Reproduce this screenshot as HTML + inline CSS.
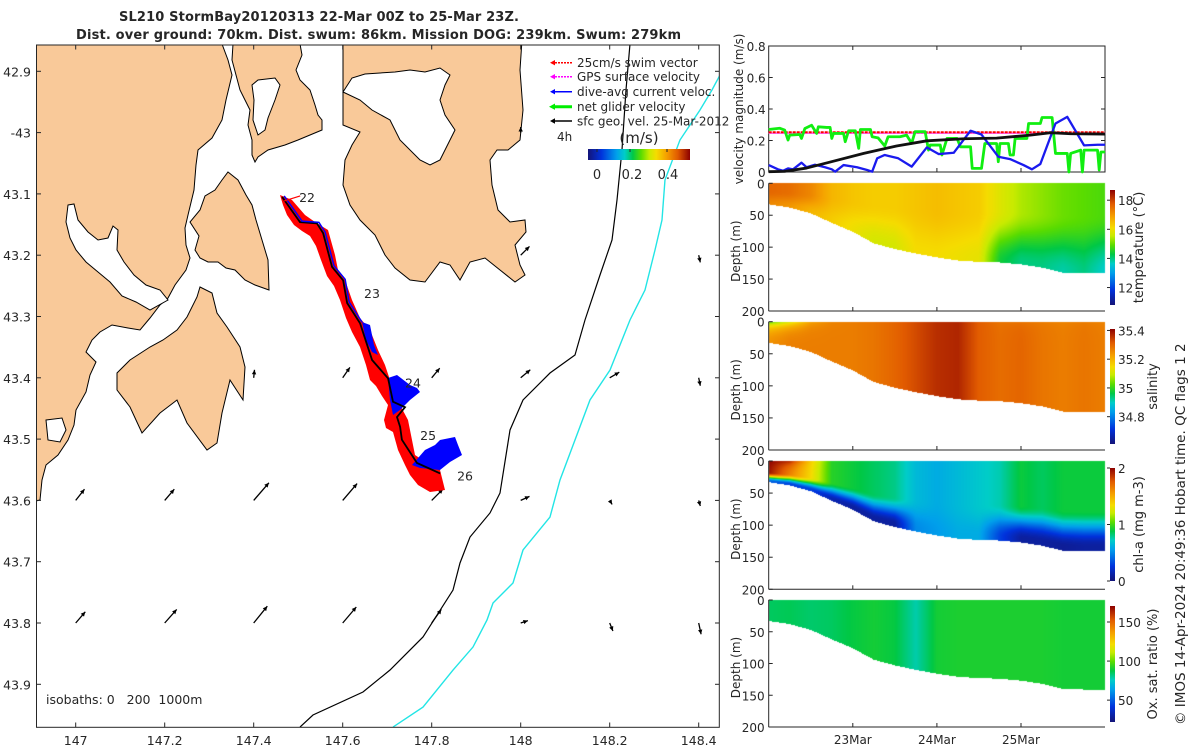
<!DOCTYPE html>
<html><head><meta charset="utf-8">
<style>
body{margin:0;width:1200px;height:750px;background:#fff;overflow:hidden;font-family:"DejaVu Sans","Liberation Sans",sans-serif}
#heat{position:absolute;left:0;top:0}
#chart{position:absolute;left:0;top:0}
text{fill:#262626}
</style></head>
<body>
<canvas id="heat" width="1200" height="750"></canvas>
<svg id="chart" width="1200" height="750" xmlns="http://www.w3.org/2000/svg">
<defs>
<clipPath id="mapclip"><rect x="36.5" y="45" width="682.8" height="682.3"/></clipPath>
<linearGradient id="cbgrad" x1="0" x2="1" y1="0" y2="0">
<stop offset="0" stop-color="rgb(20,20,120)"/><stop offset="0.13" stop-color="rgb(0,50,220)"/><stop offset="0.28" stop-color="rgb(0,160,235)"/><stop offset="0.36" stop-color="rgb(0,205,200)"/><stop offset="0.44" stop-color="rgb(0,200,70)"/><stop offset="0.52" stop-color="rgb(90,220,0)"/><stop offset="0.6" stop-color="rgb(200,235,0)"/><stop offset="0.67" stop-color="rgb(245,220,0)"/><stop offset="0.77" stop-color="rgb(245,160,0)"/><stop offset="0.88" stop-color="rgb(225,90,0)"/><stop offset="1" stop-color="rgb(140,0,0)"/>
</linearGradient>
<linearGradient id="cbgradv" x1="0" x2="0" y1="1" y2="0">
<stop offset="0" stop-color="rgb(20,20,120)"/><stop offset="0.13" stop-color="rgb(0,50,220)"/><stop offset="0.28" stop-color="rgb(0,160,235)"/><stop offset="0.36" stop-color="rgb(0,205,200)"/><stop offset="0.44" stop-color="rgb(0,200,70)"/><stop offset="0.52" stop-color="rgb(90,220,0)"/><stop offset="0.6" stop-color="rgb(200,235,0)"/><stop offset="0.67" stop-color="rgb(245,220,0)"/><stop offset="0.77" stop-color="rgb(245,160,0)"/><stop offset="0.88" stop-color="rgb(225,90,0)"/><stop offset="1" stop-color="rgb(140,0,0)"/>
</linearGradient>
</defs>
<text x="119" y="21" font-size="13" font-weight="bold" textLength="400">SL210 StormBay20120313 22-Mar 00Z to 25-Mar 23Z.</text>
<text x="76" y="39" font-size="13" font-weight="bold" textLength="605">Dist. over ground: 70km. Dist. swum: 86km. Mission DOG: 239km. Swum: 279km</text>

<g id="map">
 <g clip-path="url(#mapclip)" id="mapinner">
  <g fill="#F9C999" stroke="#000" stroke-width="1">
   <path d="M20,44 L222,44 L228,60 L232,75 L226,100 L222,120 L212,138 L198,150 L196,165 L194,190 L188,215 L185,228 L186,245 L190,258 L186,270 L175,285 L168,298 L160,305 L150,318 L140,330 L128,328 L112,325 L100,332 L92,340 L86,352 L96,362 L90,375 L86,392 L76,410 L74,425 L68,440 L58,455 L46,465 L42,480 L40,500 L20,505 Z"/>
   <path d="M228,172 L238,180 L246,195 L252,205 L256,220 L262,240 L268,260 L269,290 L255,285 L245,280 L235,270 L226,268 L218,262 L208,262 L200,258 L195,250 L199,236 L190,222 L200,210 L205,196 L215,190 L222,180 Z"/>
   <path d="M200,287 L212,293 L217,313 L227,327 L240,347 L245,367 L243,400 L230,380 L222,413 L217,443 L207,450 L187,423 L177,400 L160,413 L142,433 L136,420 L130,407 L117,390 L117,373 L130,360 L150,347 L163,340 L177,330 L187,317 L197,297 Z"/>
   <path d="M233,44 L300,44 L302,55 L296,70 L300,80 L310,90 L315,105 L318,115 L322,120 L322,130 L310,135 L298,140 L285,145 L268,150 L258,157 L255,162 L252,155 L252,140 L248,125 L250,110 L245,100 L240,90 L236,75 L232,60 Z"/>
   <path d="M343,40 L522,40 L520,70 L523,110 L520,140 L508,150 L497,150 L490,160 L492,185 L498,210 L510,222 L525,220 L526,232 L515,245 L520,265 L525,275 L515,282 L500,270 L485,258 L470,262 L460,280 L450,265 L440,262 L425,282 L410,280 L395,268 L385,255 L375,235 L360,220 L350,205 L343,185 L345,160 L352,145 L360,132 L343,125 Z"/>
  </g>
  <g fill="#fff" stroke="#000" stroke-width="1">
   <path d="M68,205 L74,204 L78,220 L88,232 L98,240 L108,238 L113,226 L118,230 L117,250 L124,262 L134,275 L146,285 L160,290 L168,300 L150,310 L136,302 L122,296 L110,282 L98,272 L86,262 L76,250 L70,238 L66,222 Z"/>
   <path d="M258,80 L275,78 L280,85 L275,100 L268,118 L265,130 L258,135 L253,120 L254,100 L252,85 Z"/>
   <path d="M343,92 L352,78 L365,74 L395,72 L410,70 L425,72 L440,68 L450,75 L445,85 L440,100 L445,115 L455,130 L450,140 L440,160 L430,165 L420,160 L400,140 L390,120 L372,110 L360,100 Z"/>
   <path d="M46,420 L62,418 L66,430 L60,442 L48,440 Z"/>
  </g>
  <g id="isobaths"></g>
  <g id="arrows"></g>
  <g>
   <path fill="#ff0000" d="M280,195 L292,200 L305,215 L315,222 L328,230 L335,255 L338,270 L345,280 L352,300 L360,318 L370,330 L378,350 L385,365 L390,380 L395,395 L400,405 L408,420 L412,440 L415,455 L430,465 L440,470 L445,490 L430,492 L418,485 L410,475 L405,465 L398,450 L393,432 L386,428 L384,420 L388,405 L382,396 L376,386 L370,380 L366,365 L360,347 L352,332 L346,318 L340,300 L334,286 L327,276 L321,260 L316,246 L310,236 L302,231 L294,225 L287,215 L283,205 Z"/>
   <path fill="#0000ff" d="M412,465 L425,450 L435,445 L440,440 L455,437 L458,445 L462,455 L450,462 L440,470 L420,468 Z"/>
   <path fill="#0000ff" d="M388,378 L397,375 L410,385 L417,388 L420,392 L410,400 L400,410 L393,415 L390,400 Z"/>
   <path fill="#0000ff" d="M362,322 L370,325 L374,345 L378,355 L372,352 L366,340 Z"/>
  </g>
  <g id="track"></g>
 </g>
 <rect x="36.5" y="45" width="682.8" height="682.3" fill="none" stroke="#262626" stroke-width="1"/>
 <g id="mapaxes"></g>
 <text x="46" y="704" font-size="12.5" xml:space="preserve" style="white-space:pre">isobaths: 0   200  1000m</text>
 <g font-size="12">
  <g><line x1="552" y1="62.7" x2="572" y2="62.7" stroke="#ff0000" stroke-width="1.5" stroke-dasharray="2 1"/><path d="M550,62.7 L555,60 L555,65.4 Z" fill="#ff0000"/><text x="577" y="67">25cm/s swim vector</text></g>
  <g><line x1="552" y1="76.7" x2="572" y2="76.7" stroke="#ff00ff" stroke-width="1.5" stroke-dasharray="2 1"/><path d="M550,76.7 L555,74 L555,79.4 Z" fill="#ff00ff"/><text x="577" y="81">GPS surface velocity</text></g>
  <g><line x1="552" y1="91.7" x2="572" y2="91.7" stroke="#0000ff" stroke-width="1.5"/><path d="M550,91.7 L555,89 L555,94.4 Z" fill="#0000ff"/><text x="577" y="96">dive-avg current veloc.</text></g>
  <g><line x1="552" y1="106.7" x2="572" y2="106.7" stroke="#00ee00" stroke-width="3"/><path d="M549,106.7 L555,103.5 L555,109.9 Z" fill="#00ee00"/><text x="577" y="111">net glider velocity</text></g>
  <g><line x1="552" y1="121" x2="572" y2="121" stroke="#000" stroke-width="1.5"/><path d="M550,121 L555,118.3 L555,123.7 Z" fill="#000"/><text x="577" y="125.5">sfc geo. vel. 25-Mar-2012</text></g>
  <text x="557" y="141" font-size="12">4h</text>
  <text x="639" y="143" font-size="15" text-anchor="middle">(m/s)</text>
  <rect x="588" y="149" width="102" height="11" fill="url(#cbgrad)"/>
  <g font-size="13" text-anchor="middle">
   <line x1="597" y1="149" x2="597" y2="152" stroke="#262626"/><line x1="630" y1="149" x2="630" y2="152" stroke="#262626"/><line x1="667" y1="149" x2="667" y2="152" stroke="#262626"/>
   <text x="597" y="179">0</text><text x="632" y="179">0.2</text><text x="668" y="179">0.4</text>
  </g>
 </g>
</g>

<g id="velpanel"></g>
<g id="sections"></g>
<text transform="translate(1185,725) rotate(-90)" font-size="13.5">© IMOS 14-Apr-2024 20:49:36 Hobart time. QC flags 1  2</text>
</svg>

<script>
// ---------------- DATA ----------------
const trackLon = [147.464,147.504,147.542,147.556,147.576,147.601,147.610,147.639,147.666,147.702,147.713,147.740,147.722,147.729,147.733,147.767,147.819];
const trackLat = [43.105,43.146,43.148,43.164,43.219,43.241,43.278,43.311,43.371,43.401,43.439,43.448,43.464,43.480,43.501,43.539,43.556];
const dayLabels = ['22','23','24','25','26'];
const dayLon = [147.502,147.648,147.740,147.774,147.857];
const dayLat = [43.105,43.262,43.408,43.493,43.559];
const iso200Lon = [148.2456,148.2366,148.2276,148.2164,148.2052,148.1782,148.1445,148.1220,148.0658,148.0052,147.9760,147.9535,147.9310,147.8861,147.8636,147.8479,147.7805,147.7063,147.6456,147.5332,147.5040];
const iso200Lat = [42.8555,42.9305,43.0284,43.1100,43.1752,43.2323,43.3057,43.3628,43.3922,43.4362,43.4851,43.5879,43.6205,43.6597,43.7021,43.7462,43.8228,43.8767,43.9126,43.9501,43.9697];
const iso1000Lon = [148.4478,148.4298,148.4029,148.3579,148.3242,148.3175,148.3018,148.2793,148.2456,148.2007,148.1557,148.1220,148.0883,148.0658,148.0052,147.9827,147.9378,147.9243,147.8928,147.8479,147.7805,147.7131];
const iso1000Lat = [42.9061,42.9305,42.9632,43.0121,43.0774,43.1426,43.1915,43.2568,43.3057,43.3873,43.4362,43.5015,43.5667,43.6271,43.6809,43.7347,43.7674,43.7951,43.8392,43.8767,43.9371,43.9697];
const arrLon = [147.4,147.6,147.8,148.0,148.2,148.4, 148.0,148.4, 147.0,147.2,147.4,147.6,147.8,148.0,148.2,148.4, 147.0,147.2,147.4,147.6,147.8,148.0,148.2,148.4, 148.0];
const arrLat = [43.4,43.4,43.4,43.4,43.4,43.4, 43.2,43.2, 43.6,43.6,43.6,43.6,43.6,43.6,43.6,43.6, 43.8,43.8,43.8,43.8,43.8,43.8,43.8,43.8, 43.0];
const arrU = [0.01,0.09,0.10,0.12,0.12,0.02, 0.11,0.02, 0.11,0.12,0.19,0.18,0.14,0.11,0.03,0.02, 0.12,0.15,0.17,0.17,0.12,0.09,0.04,0.03, 0.0];
const arrV = [0.10,0.13,0.12,0.10,0.07,-0.10, 0.11,-0.09, 0.14,0.14,0.22,0.21,0.14,0.05,-0.05,-0.07, 0.14,0.17,0.21,0.20,0.17,0.03,-0.10,-0.14, 0.07];
const latTicks = [42.9,43.0,43.1,43.2,43.3,43.4,43.5,43.6,43.7,43.8,43.9];
const latTickLabels = ['42.9','-43','43.1','43.2','43.3','43.4','43.5','43.6','43.7','43.8','43.9'];
const lonTicks = [147,147.2,147.4,147.6,147.8,148,148.2,148.4];
const lonTickLabels = ['147','147.2','147.4','147.6','147.8','148','148.2','148.4'];

const netT = [0,0.13,0.19,0.23,0.25,0.37,0.39,0.43,0.51,0.57,0.59,0.69,0.73,0.75,0.77,0.89,0.91,0.95,1.03,1.07,1.09,1.21,1.23,1.30,1.38,1.42,1.56,1.64,1.70,1.74,1.86,1.90,1.92,2.04,2.06,2.12,2.24,2.28,2.40,2.42,2.53,2.57,2.71,2.73,2.75,2.85,2.87,2.91,2.93,3.07,3.09,3.23,3.25,3.37,3.41,3.55,3.57,3.59,3.71,3.73,3.75,3.91,3.93,3.95,4.0];
const netV = [0.27,0.278,0.266,0.203,0.234,0.238,0.213,0.276,0.297,0.245,0.287,0.283,0.283,0.213,0.245,0.245,0.192,0.262,0.262,0.150,0.270,0.270,0.224,0.217,0.165,0.224,0.224,0.234,0.182,0.256,0.256,0.139,0.171,0.171,0.108,0.213,0.213,0.160,0.160,0.023,0.023,0.181,0.181,0.065,0.181,0.181,0.108,0.108,0.213,0.213,0.308,0.308,0.346,0.346,0.118,0.118,0.0,0.118,0.139,0.0,0.139,0.139,0.013,0.127,0.127];
const curT = [0,0.11,0.17,0.23,0.29,0.39,0.45,0.55,0.67,0.75,0.79,0.89,1.05,1.17,1.23,1.29,1.38,1.54,1.70,1.88,2.02,2.20,2.40,2.53,2.73,2.87,3.03,3.13,3.23,3.41,3.55,3.75,3.91,4.0];
const curV = [0.044,0.017,0.008,0.023,0.017,0.059,0.030,0.046,0.030,0.017,0.002,0.044,0.030,0.013,0.002,0.087,0.108,0.087,0.034,0.156,0.114,0.122,0.262,0.238,0.097,0.082,0.044,0.017,0.051,0.308,0.350,0.169,0.173,0.173];
const geoT = [0,0.19,0.45,0.73,1.13,1.52,1.88,2.32,2.71,3.11,3.35,3.59,4.0];
const geoV = [0.002,0.004,0.025,0.063,0.118,0.165,0.198,0.211,0.215,0.234,0.249,0.243,0.241];
const swimV = 0.252;
const velTicks = [0,0.2,0.4,0.6,0.8];
const dateTicks = [1,2,3];
const dateTickLabels = ['23Mar','24Mar','25Mar'];

const secT = [0,0.25,0.5,0.75,1,1.25,1.5,1.75,2,2.25,2.5,2.75,3,3.25,3.5,3.75,4];
const bottomDepth = [33,38,47,62,76,94,103,110,116,121,123,124,127,132,140,141,141];
const tempBody = [17.6,17.5,17.2,16.6,16.4,16.3,16.3,16.4,16.5,16.4,16.3,15.8,15.4,15.2,15.0,14.9,14.8];
const tempDeep = [17.2,17.0,16.6,16.3,16.0,15.7,15.7,16.1,16.1,16.0,15.9,14.4,14.0,14.0,13.8,14.0,13.6];
const salSurf = [35.0,35.1,35.22,35.26,35.27,35.28,35.3,35.33,35.36,35.37,35.31,35.28,35.28,35.27,35.26,35.27,35.26];
const salBody = [35.25,35.27,35.27,35.27,35.27,35.28,35.3,35.33,35.36,35.37,35.31,35.29,35.3,35.28,35.27,35.28,35.27];
const chlSurf = [2.0,1.9,1.4,0.95,0.9,0.85,0.8,0.65,0.6,0.65,0.7,0.75,0.9,0.85,0.9,0.9,0.9];
const chlBody = [1.95,1.6,1.35,0.95,0.9,0.85,0.8,0.65,0.6,0.65,0.7,0.75,0.9,0.85,0.9,0.9,0.9];
const chlDeep = [0.4,0.3,0.3,0.15,0.1,0.1,0.1,0.5,0.55,0.6,0.6,0.3,0.1,0.1,0.08,0.1,0.1];
const oxBody = [85,86,84,85,88,90,88,78,90,91,91,91,91,91,90,90,90];
const tempTicks=[12,14,16,18], salTicks=[34.8,35,35.2,35.4], chlTicks=[0,1,2], oxTicks=[50,100,150];
const depthTicks=[0,50,100,150,200];

// ---------------- helpers ----------------
const NS='http://www.w3.org/2000/svg';
function mk(tag, attrs, parent){const e=document.createElementNS(NS,tag);for(const k in attrs)e.setAttribute(k,attrs[k]);parent.appendChild(e);return e;}
const lonX = lon => 75.7 + (lon-147)*445;
const latY = lat => 561.7 + (lat-43.7)*613;
function interp(xs,ys,x){if(x<=xs[0])return ys[0];for(let i=1;i<xs.length;i++){if(x<=xs[i]){const f=(x-xs[i-1])/(xs[i]-xs[i-1]);return ys[i-1]+f*(ys[i]-ys[i-1]);}}return ys[ys.length-1];}
const cmStops=[[0,[20,20,120]],[0.13,[0,50,220]],[0.28,[0,160,235]],[0.36,[0,205,200]],[0.44,[0,200,70]],[0.52,[90,220,0]],[0.6,[200,235,0]],[0.67,[245,220,0]],[0.77,[245,160,0]],[0.88,[225,90,0]],[1,[140,0,0]]];
function cmap(f){f=Math.max(0,Math.min(1,f));for(let i=1;i<cmStops.length;i++){if(f<=cmStops[i][0]){const a=cmStops[i-1],b=cmStops[i];const g=(f-a[0])/(b[0]-a[0]);return [0,1,2].map(k=>Math.round(a[1][k]+g*(b[1][k]-a[1][k])));}}return cmStops[cmStops.length-1][1];}
function arrowHead(g,x1,y1,x2,y2,size,color){const a=Math.atan2(y2-y1,x2-x1);const p1=[x2-size*Math.cos(a-0.45),y2-size*Math.sin(a-0.45)],p2=[x2-size*Math.cos(a+0.45),y2-size*Math.sin(a+0.45)];return mk('path',{d:`M${x2},${y2} L${p1[0]},${p1[1]} L${p2[0]},${p2[1]} Z`,fill:color},g);}

// ---------------- MAP ----------------
const iso=document.getElementById('isobaths');
let el=mk('polyline',{points:iso200Lon.map((l,i)=>lonX(l)+','+latY(iso200Lat[i])).join(' '),fill:'none',stroke:'#000','stroke-width':1.2},iso);


el=mk('polyline',{points:iso1000Lon.map((l,i)=>lonX(l)+','+latY(iso1000Lat[i])).join(' '),fill:'none',stroke:'#22e5e5','stroke-width':1.4},iso);



const arrG=document.getElementById('arrows');
const AS=80;
arrLon.forEach((lon,i)=>{
  const x1=lonX(lon),y1=latY(arrLat[i]),x2=x1+arrU[i]*AS,y2=y1-arrV[i]*AS;
  const g=mk('g',{},arrG);
  
  
  mk('line',{x1:x1,y1:y1,x2:x2,y2:y2,stroke:'#000','stroke-width':1.3},g);
  arrowHead(g,x1,y1,x2,y2,5,'#000');
});

const trG=document.getElementById('track');
el=mk('polyline',{points:trackLon.map((l,i)=>lonX(l)+','+latY(trackLat[i])).join(' '),fill:'none',stroke:'#000','stroke-width':1.8},trG);


el=mk('polyline',{points:trackLon.slice(0,8).map((l,i)=>(lonX(l)+2)+','+(latY(trackLat[i])-1)).join(' '),fill:'none',stroke:'#0000ff','stroke-width':1.5},trG);


dayLabels.forEach((d,i)=>{
  const t=mk('text',{x:lonX(dayLon[i]),y:latY(dayLat[i])+5,'font-size':12.5},trG);
  t.textContent=d;
  
  
});
el=mk('line',{x1:lonX(trackLon[0])+2,y1:latY(trackLat[0])+4,x2:lonX(trackLon[0])+18,y2:latY(trackLat[0])-1,stroke:'#ff0000','stroke-width':1.2},trG);



const ax=document.getElementById('mapaxes');
latTicks.forEach((lat,i)=>{
  const y=latY(lat);
  mk('line',{x1:36.5,y1:y,x2:41,y2:y,stroke:'#262626'},ax);
  mk('line',{x1:715,y1:y,x2:719.3,y2:y,stroke:'#262626'},ax);
  const t=mk('text',{x:31,y:y+5,'font-size':12.5,'text-anchor':'end'},ax);
  t.textContent=latTickLabels[i];
  
  
});
lonTicks.forEach((lon,i)=>{
  const x=lonX(lon);
  mk('line',{x1:x,y1:727.3,x2:x,y2:722.5,stroke:'#262626'},ax);
  mk('line',{x1:x,y1:45,x2:x,y2:49.5,stroke:'#262626'},ax);
  const t=mk('text',{x:x,y:745,'font-size':12.5,'text-anchor':'middle'},ax);
  t.textContent=lonTickLabels[i];
  
  
});

// ---------------- VELOCITY PANEL ----------------
const X0=768.7, DAY=84.1, XR=1105;
const tx=t=>X0+t*DAY;
const VT=46, VB=172;
const vy=v=>VB-(v/0.8)*(VB-VT);
const vp=document.getElementById('velpanel');
el=mk('rect',{x:X0,y:VT,width:XR-X0,height:VB-VT,fill:'#fff',stroke:'#262626'},vp);


velTicks.forEach(v=>{
  mk('line',{x1:X0,y1:vy(v),x2:X0+4,y2:vy(v),stroke:'#262626'},vp);
  mk('line',{x1:XR-4,y1:vy(v),x2:XR,y2:vy(v),stroke:'#262626'},vp);
  const t=mk('text',{x:X0-3,y:vy(v)+5,'font-size':12,'text-anchor':'end'},vp);
  t.textContent=v===0?'0':v.toFixed(1);
  
  
});
dateTicks.forEach(d=>{mk('line',{x1:tx(d),y1:VB,x2:tx(d),y2:VB-4,stroke:'#262626'},vp);mk('line',{x1:tx(d),y1:VT,x2:tx(d),y2:VT+4,stroke:'#262626'},vp);});
el=mk('text',{transform:`translate(${743},${109}) rotate(-90)`,'font-size':12,'text-anchor':'middle'},vp);
el.textContent='velocity magnitude (m/s)';


function series(ts,vs,color,w,name,dash){
  const e=mk('polyline',{points:ts.map((t,i)=>tx(t)+','+vy(vs[i])).join(' '),fill:'none',stroke:color,'stroke-width':w,'stroke-linejoin':'round'},vp);
  if(dash)e.setAttribute('stroke-dasharray',dash);
  
  
}
series([0,4],[swimV-0.006,swimV-0.006],'#ff66ff',1.5,'gps-velocity-line');
series([0,4],[swimV,swimV],'#ff0000',2,'swim-speed-line','3 1');
series(netT,netV,'#11ee11',2.8,'net-glider-velocity-line');
series(curT,curV,'#1a1aee',2.3,'dive-avg-current-line');
series(geoT,geoV,'#111',2.8,'sfc-geo-velocity-line');

// ---------------- SECTION PANELS ----------------
function smooth(x){x=Math.max(0,Math.min(1,x));return x*x*(3-2*x);}
const panels=[
 {top:183.3,bot:311,name:'temperature',cb:[190,305],lo:10.8,hi:18.7,ticks:tempTicks,label:'temperature (°C)',lx:1143,
  f:(t,z,D)=>{const b=interp(secT,tempBody,t),d=interp(secT,tempDeep,t);const s=smooth((z/D-0.35)/0.65);return b+(d-b)*s;}},
 {top:321.7,bot:450,name:'salinity',cb:[329,444],lo:34.61,hi:35.41,ticks:salTicks,label:'salinity',lx:1157,
  f:(t,z,D)=>{const s=interp(secT,salSurf,t),b=interp(secT,salBody,t);return b+(s-b)*Math.exp(-z/9);}},
 {top:461,bot:589.3,name:'chlorophyll',cb:[468,581],lo:0,hi:2,ticks:chlTicks,label:'chl-a (mg m-3)',lx:1143,
  f:(t,z,D)=>{const s=interp(secT,chlSurf,t),b=interp(secT,chlBody,t),d=interp(secT,chlDeep,t);const w=smooth((z/D-0.55)/0.4);return b+(s-b)*Math.exp(-z/10)+(d-b)*w;}},
 {top:600,bot:727,name:'oxygen',cb:[606,722],lo:22,hi:170.5,ticks:oxTicks,label:'Ox. sat. ratio (%)',lx:1157,
  f:(t,z,D)=>interp(secT,oxBody,t)}
];
const cv=document.getElementById('heat'),ctx=cv.getContext('2d');
const img=ctx.createImageData(1200,750);
for(let i=0;i<img.data.length;i++)img.data[i]=255;
panels.forEach(p=>{
  for(let px=Math.ceil(X0);px<XR;px++){
    const t=(px+0.5-X0)/DAY;
    const D=interp(secT,bottomDepth,t);
    for(let py=Math.floor(p.top);py<p.bot;py++){
      const z=(py+0.5-p.top)/(p.bot-p.top)*200;
      if(z<0)continue;
      if(z>D)break;
      const c=cmap((p.f(t,z,D)-p.lo)/(p.hi-p.lo));
      const k=(py*1200+px)*4;img.data[k]=c[0];img.data[k+1]=c[1];img.data[k+2]=c[2];
    }
  }
});
ctx.putImageData(img,0,0);

const sec=document.getElementById('sections');
panels.forEach((p,pi)=>{
  const g=mk('g',{},sec);
  
  
  const zy=z=>p.top+z/200*(p.bot-p.top);
  mk('line',{x1:X0,y1:p.top,x2:X0,y2:p.bot,stroke:'#262626'},g);
  mk('line',{x1:X0,y1:p.bot,x2:XR,y2:p.bot,stroke:'#262626'},g);
  depthTicks.forEach(z=>{
    mk('line',{x1:X0,y1:zy(z),x2:X0+4,y2:zy(z),stroke:'#262626'},g);
    const t=mk('text',{x:X0-4,y:zy(z)+5,'font-size':12,'text-anchor':'end'},g);
    t.textContent=z;
    
    
  });
  dateTicks.forEach(d=>mk('line',{x1:tx(d),y1:p.bot,x2:tx(d),y2:p.bot-4,stroke:'#262626'},g));
  const yl=mk('text',{transform:`translate(740,${(p.top+p.bot)/2+4}) rotate(-90)`,'font-size':12,'text-anchor':'middle'},g);
  yl.textContent='Depth (m)';
  
  
  const cb=mk('rect',{x:1110,y:p.cb[0],width:5,height:p.cb[1]-p.cb[0],fill:'url(#cbgradv)'},g);
  
  
  p.ticks.forEach(v=>{
    const y=p.cb[1]-(v-p.lo)/(p.hi-p.lo)*(p.cb[1]-p.cb[0]);
    mk('line',{x1:1107,y1:y,x2:1110,y2:y,stroke:'#262626'},g);
    const t=mk('text',{x:1118,y:y+5,'font-size':12},g);
    t.textContent=String(v);
    
    
  });
  const cl=mk('text',{transform:`translate(${p.lx},${(p.cb[0]+p.cb[1])/2}) rotate(-90)`,'font-size':13,'text-anchor':'middle'},g);
  cl.textContent=p.label;
  
  
});
dateTicks.forEach((d,i)=>{
  const t=mk('text',{x:tx(d),y:744,'font-size':12,'text-anchor':'middle'},sec);
  t.textContent=dateTickLabels[i];
  
  
});
</script>
</body></html>
